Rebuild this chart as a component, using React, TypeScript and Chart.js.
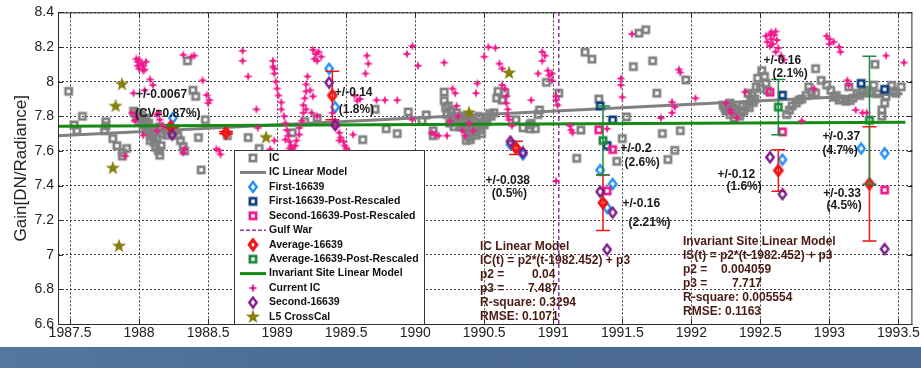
import React, { useEffect, useRef } from 'react';
import { Chart, registerables } from 'chart.js';

Chart.register(...registerables);

// ---------------- data ----------------
const xTickValues = [1987.5, 1988, 1988.5, 1989, 1989.5, 1990, 1990.5, 1991, 1991.5, 1992, 1992.5, 1993, 1993.5];
const yTickValues = [6.6, 6.8, 7, 7.2, 7.4, 7.6, 7.8, 8, 8.2, 8.4];

const icPoints: [number, number][] = [
  [1987.49, 7.944], [1987.59, 7.80], [1987.53, 7.75], [1987.55, 7.717], [1987.76, 7.768], [1987.76, 7.745],
  [1987.75, 7.717], [1987.81, 7.671], [1987.84, 7.63], [1987.88, 7.59], [1987.88, 7.57], [1987.91, 7.614],
  [1987.96, 7.83], [1987.99, 7.82], [1988.02, 7.81], [1987.98, 7.79], [1988.01, 7.77], [1988.04, 7.77],
  [1988.03, 7.75], [1988.06, 7.74], [1988.05, 7.717], [1988.08, 7.705], [1988.09, 7.69], [1988.08, 7.66],
  [1988.11, 7.65], [1988.12, 7.62], [1988.14, 7.60], [1988.15, 7.575], [1988.13, 7.67], [1988.12, 7.717],
  [1988.15, 7.74], [1988.19, 7.72], [1988.22, 7.728], [1988.26, 7.717], [1988.28, 7.69], [1988.30, 7.66],
  [1988.32, 7.625], [1988.33, 7.60], [1988.00, 7.80], [1988.05, 7.79], [1988.07, 7.76], [1988.10, 7.73],
  [1988.17, 7.70], [1988.20, 7.69], [1988.24, 7.70], [1988.10, 7.68], [1988.16, 7.63],
  [1988.35, 8.12], [1988.39, 7.95], [1988.41, 7.915], [1988.48, 7.78],
  [1988.43, 7.677], [1988.45, 7.49], [1988.64, 7.688], [1988.79, 7.677], [1988.87, 7.614], [1989.11, 7.705],
  [1989.20, 7.77], [1989.29, 7.79], [1989.62, 7.665], [1989.71, 7.84], [1989.79, 7.728], [1989.87, 7.70],
  [1989.95, 7.825], [1990.05, 7.774], [1990.08, 7.808], [1990.13, 7.717], [1990.13, 7.688], [1990.21, 7.94],
  [1990.21, 7.89], [1990.24, 7.86], [1990.26, 7.83], [1990.23, 7.81], [1990.29, 7.795], [1990.31, 7.77],
  [1990.25, 7.76], [1990.34, 7.75], [1990.36, 7.73], [1990.38, 7.705], [1990.39, 7.68], [1990.42, 7.705],
  [1990.45, 7.735], [1990.48, 7.76], [1990.51, 7.79], [1990.54, 7.815], [1990.57, 7.82], [1990.34, 7.80],
  [1990.43, 7.77], [1990.40, 7.74], [1990.44, 7.75], [1990.47, 7.72], [1990.50, 7.75], [1990.46, 7.80],
  [1990.37, 7.78], [1990.32, 7.74], [1990.22, 7.85], [1990.27, 7.80], [1990.30, 7.82], [1990.33, 7.78],
  [1990.28, 7.74], [1990.35, 7.76], [1990.41, 7.72], [1990.44, 7.69], [1990.48, 7.70], [1990.52, 7.77],
  [1990.55, 7.80], [1990.38, 7.80], [1990.40, 7.79], [1990.40, 7.665], [1990.37, 7.66],
  [1990.60, 7.944], [1990.65, 7.933], [1990.63, 7.893], [1990.59, 7.905],
  [1990.73, 7.78], [1990.78, 7.733], [1990.83, 7.728], [1990.87, 7.728], [1990.83, 7.75], [1990.90, 7.836],
  [1990.89, 7.81], [1990.84, 7.76], [1990.95, 7.996], [1991.04, 7.933], [1991.23, 8.17], [1991.28, 8.13],
  [1991.20, 7.72], [1991.17, 7.557], [1991.33, 7.90], [1991.46, 7.54], [1991.50, 7.671], [1991.53, 7.796],
  [1991.62, 8.28], [1991.67, 8.30], [1991.58, 8.087], [1991.72, 8.12], [1991.96, 8.01], [1991.75, 7.933],
  [1991.79, 7.70], [1991.92, 7.717], [1991.88, 7.603], [1991.83, 7.55], [1992.23, 7.865], [1992.25, 7.83],
  [1992.28, 7.81], [1992.30, 7.85], [1992.33, 7.825], [1992.35, 7.80], [1992.38, 7.83], [1992.40, 7.865],
  [1992.43, 7.89], [1992.44, 7.92], [1992.41, 7.933], [1992.47, 7.97], [1992.48, 8.02], [1992.51, 8.064],
  [1992.54, 7.99], [1992.55, 7.95], [1992.46, 7.90], [1992.28, 7.876], [1992.24, 7.85], [1992.36, 7.82],
  [1992.31, 7.79], [1992.42, 7.85], [1992.27, 7.86], [1992.26, 7.84], [1992.33, 7.84], [1992.37, 7.86],
  [1992.45, 7.88], [1992.50, 7.96], [1992.53, 8.03],
  [1992.69, 7.81], [1992.71, 7.836], [1992.73, 7.86],
  [1992.76, 7.876], [1992.78, 7.893], [1992.83, 7.92], [1992.90, 7.933], [1992.85, 7.97], [1992.90, 8.075],
  [1992.94, 8.007], [1992.98, 7.98], [1993.01, 7.95], [1993.07, 7.893], [1993.12, 7.887], [1993.17, 7.905],
  [1993.20, 7.933], [1993.24, 7.944], [1993.14, 7.97], [1993.03, 7.91], [1993.09, 7.90], [1993.15, 7.89],
  [1993.22, 7.92], [1993.27, 7.95], [1993.35, 7.93], [1993.33, 8.10], [1993.32, 7.98], [1993.45, 7.978],
  [1993.52, 7.97], [1993.48, 7.933], [1993.40, 7.876], [1993.41, 7.916], [1993.38, 7.836], [1993.38, 7.80],
  [1993.29, 7.933], [1993.46, 7.944], [1992.80, 7.90], [1992.87, 7.94], [1993.05, 7.92],
];

const icLinearModel: [number, number][] = [[1987.41, 7.688], [1993.53, 7.93]];

const first16639: [number, number][] = [
  [1988.245, 7.791], [1989.377, 8.075], [1989.42, 7.853], [1990.69, 7.637], [1990.78, 7.58],
  [1991.34, 7.489], [1991.43, 7.409], [1991.39, 7.272], [1992.66, 7.55], [1993.23, 7.614], [1993.40, 7.586],
];

const firstPostRescaled: [number, number][] = [
  [1991.34, 7.859], [1991.43, 7.779], [1991.39, 7.631], [1992.66, 7.922], [1993.23, 7.99], [1993.40, 7.956],
];

const secondPostRescaled: [number, number][] = [
  [1991.33, 7.722], [1991.43, 7.608], [1991.39, 7.369], [1992.57, 7.939], [1992.66, 7.71], [1993.40, 7.374],
];

const gulfWar: [number, number][] = [[1991.04, 6.6], [1991.04, 8.4]];

const average16639: [number, number][] = [
  [1988.23, 7.74], [1988.63, 7.705], [1989.40, 7.92], [1990.73, 7.617], [1991.36, 7.30], [1992.63, 7.487], [1993.29, 7.41],
];
const average16639Err = [0.0067, 0.0067, 0.14, 0.038, 0.16, 0.12, 0.33];

const averagePostRescaled: [number, number][] = [[1991.36, 7.66], [1992.63, 7.853], [1993.29, 7.777]];
const averagePostRescaledErr = [0.2, 0.16, 0.37];

const invariantSiteModel: [number, number][] = [[1987.41, 7.742], [1993.55, 7.765]];

const currentIC: [number, number][] = [
  [1987.98, 8.132], [1987.99, 8.115], [1988.00, 8.127], [1988.02, 8.104], [1988.03, 8.092], [1988.05, 8.115],
  [1988.00, 8.075], [1988.03, 8.064], [1987.99, 8.092], [1988.04, 8.07], [1988.08, 8.013], [1988.10, 7.98],
  [1988.04, 7.95], [1987.96, 7.933], [1987.95, 7.82], [1987.97, 7.774], [1987.98, 7.80], [1988.13, 7.81],
  [1988.03, 7.69], [1987.90, 7.57], [1988.14, 7.82], [1988.15, 7.78], [1988.17, 7.745], [1988.13, 7.717],
  [1988.32, 8.155], [1988.40, 8.15], [1988.38, 8.144], [1988.46, 8.007], [1988.49, 7.922], [1988.50, 7.876],
  [1988.51, 7.893], [1988.33, 7.61], [1988.32, 7.59], [1988.56, 7.61], [1988.59, 7.58], [1988.58, 7.603],
  [1988.75, 8.178], [1988.75, 8.12], [1988.79, 8.03], [1988.85, 7.84], [1988.86, 7.733], [1988.95, 7.61],
  [1988.98, 7.66], [1988.97, 8.12], [1988.98, 8.075], [1988.97, 8.087], [1988.98, 8.047], [1988.99, 8.0],
  [1989.0, 7.96], [1989.01, 7.92], [1989.03, 7.88], [1989.03, 7.84], [1989.05, 7.80], [1989.06, 7.76],
  [1989.07, 7.72], [1989.08, 7.688], [1989.09, 7.654], [1989.10, 7.63], [1989.11, 7.614], [1989.13, 7.63],
  [1989.14, 7.66], [1989.16, 7.694], [1989.16, 7.733], [1989.18, 7.774], [1989.19, 7.82], [1989.19, 7.864],
  [1989.20, 7.904], [1989.21, 7.944], [1989.21, 7.984], [1989.22, 8.03], [1989.09, 7.614], [1989.10, 7.597],
  [1989.12, 7.59], [1989.06, 7.665], [1989.26, 8.184], [1989.28, 8.16], [1989.30, 8.172], [1989.27, 8.132],
  [1989.29, 8.12], [1989.32, 8.144], [1989.24, 7.95], [1989.26, 7.915], [1989.21, 7.84], [1989.25, 7.82],
  [1989.29, 7.80], [1989.40, 7.82], [1989.42, 7.774], [1989.43, 7.74], [1989.45, 7.705], [1989.46, 7.677],
  [1989.48, 7.654], [1989.49, 7.63], [1989.50, 7.614], [1989.52, 7.60], [1989.45, 7.66], [1989.55, 7.694],
  [1989.56, 7.92], [1989.58, 7.89], [1989.65, 8.15], [1989.66, 8.104], [1989.64, 8.047], [1989.94, 8.16],
  [1989.98, 8.206], [1990.02, 8.092], [1989.78, 7.893], [1989.87, 7.893], [1989.72, 7.893], [1989.60, 7.90],
  [1989.98, 7.78], [1990.21, 8.11], [1990.27, 7.96], [1990.29, 7.933], [1990.12, 7.705], [1990.17, 7.688],
  [1990.14, 7.694], [1990.25, 7.77], [1990.23, 7.688], [1990.30, 7.86], [1990.31, 7.80], [1990.34, 7.717],
  [1990.36, 7.688], [1990.39, 7.76], [1990.42, 7.717], [1990.45, 7.99], [1990.44, 7.933], [1990.50, 8.144],
  [1990.53, 8.20], [1990.58, 8.195], [1990.61, 8.104], [1990.63, 8.075], [1990.63, 7.98], [1990.66, 7.916],
  [1990.66, 7.876], [1990.67, 7.84], [1990.67, 7.80], [1990.68, 7.78], [1990.70, 7.745], [1990.65, 7.96],
  [1990.84, 7.893], [1990.89, 8.047], [1990.92, 8.172], [1990.94, 8.15], [1990.92, 8.12], [1990.96, 8.064],
  [1990.97, 8.036], [1990.99, 8.007], [1990.99, 8.047], [1991.02, 7.893], [1991.03, 7.864], [1991.02, 7.916],
  [1991.12, 7.745], [1991.13, 7.72], [1991.14, 7.705], [1991.02, 7.426], [1991.39, 7.728], [1991.49, 8.018],
  [1991.49, 7.98], [1991.50, 7.91], [1991.57, 8.275], [1991.78, 7.79], [1991.91, 8.07], [1991.92, 8.053],
  [1991.86, 7.882], [1991.88, 7.853], [1991.86, 7.82], [1992.03, 7.904], [1992.25, 7.876], [1992.28, 7.836],
  [1992.29, 7.82], [1992.33, 7.79], [1992.39, 7.94], [1992.54, 8.263], [1992.57, 8.275], [1992.58, 8.246],
  [1992.60, 8.27], [1992.62, 8.24], [1992.59, 8.218], [1992.57, 8.206], [1992.63, 8.195], [1992.61, 8.172],
  [1992.65, 8.15], [1992.67, 8.127], [1992.58, 8.286], [1992.55, 8.23], [1992.61, 8.29], [1992.89, 7.96],
  [1992.80, 7.774], [1992.98, 8.263], [1993.0, 8.246], [1993.03, 8.23], [1993.0, 8.218], [1993.07, 8.2],
  [1993.08, 8.172], [1993.13, 8.007], [1993.14, 7.98], [1993.19, 7.836], [1993.24, 7.82], [1993.27, 7.82],
  [1993.41, 8.15], [1993.54, 8.11],
];

const second16639: [number, number][] = [
  [1988.24, 7.694], [1989.377, 7.995], [1989.42, 7.75], [1990.69, 7.654], [1990.78, 7.591], [1991.34, 7.364],
  [1991.43, 7.244], [1991.39, 7.03], [1992.57, 7.563], [1992.66, 7.35], [1993.40, 7.033],
];

const l5CrossCal: [number, number][] = [
  [1987.876, 7.984], [1987.83, 7.858], [1987.81, 7.50], [1987.855, 7.05], [1988.92, 7.677], [1990.68, 8.05], [1990.39, 7.82],
];

const annotations = [
  { text: '+/-0.0067', x: 1987.978, y: 7.922 },
  { text: '(CV=0.87%)', x: 1987.97, y: 7.813 },
  { text: '+/-0.14', x: 1989.418, y: 7.939 },
  { text: '(1.8%)', x: 1989.446, y: 7.836 },
  { text: '+/-0.038', x: 1990.51, y: 7.426 },
  { text: '(0.5%)', x: 1990.554, y: 7.352 },
  { text: '+/-0.2', x: 1991.487, y: 7.614 },
  { text: '(2.6%)', x: 1991.516, y: 7.534 },
  { text: '+/-0.16', x: 1991.501, y: 7.295 },
  { text: '(2.21%)', x: 1991.545, y: 7.187 },
  { text: '+/-0.16', x: 1992.522, y: 8.121 },
  { text: '(2.1%)', x: 1992.587, y: 8.047 },
  { text: '+/-0.12', x: 1992.189, y: 7.46 },
  { text: '(1.6%)', x: 1992.254, y: 7.392 },
  { text: '+/-0.37', x: 1992.949, y: 7.682 },
  { text: '(4.7%)', x: 1992.949, y: 7.603 },
  { text: '+/-0.33', x: 1992.956, y: 7.352 },
  { text: '(4.5%)', x: 1992.978, y: 7.284 },
];

const icModelText: [string, string?][] = [
  ['IC Linear Model'],
  ['IC(t) = p2*(t-1982.452) + p3'],
  ['p2 =', '0.04'],
  ['p3 =', '7.487'],
  ['R-square: 0.3294'],
  ['RMSE: 0.1071'],
];
const invModelText: [string, string?][] = [
  ['Invariant Site Linear Model'],
  ['IS(t) = p2*(t-1982.452) + p3'],
  ['p2 =', '0.004059'],
  ['p3 =', '7.717'],
  ['R-square: 0.005554'],
  ['RMSE: 0.1163'],
];

// ---------------- styling ----------------
const FONT = 'Arial, "Liberation Sans", sans-serif';
const C_GRAY = '#808080';
const C_BLUE = '#1f8ef5';
const C_NAVY = '#0d3f80';
const C_PINK = '#f0198c';
const C_PURPLE_LINE = '#8e3c9c';
const C_RED = '#f01414';
const C_GREEN_SQ = '#1b8a3c';
const C_GREEN_LINE = '#158a15';
const C_PURPLE = '#7d1a8c';
const C_OLIVE = '#868010';

function makeMarker(kind: string, color: string): HTMLCanvasElement {
  const size = kind === 'star5' ? 18 : 14;
  const c = document.createElement('canvas');
  c.width = size;
  c.height = size;
  const g = c.getContext('2d') as CanvasRenderingContext2D;
  const m = size / 2;
  g.strokeStyle = color;
  g.fillStyle = color;
  if (kind === 'square') {
    g.lineWidth = 2.7;
    g.strokeRect(m - 3.1, m - 3.1, 6.2, 6.2);
  } else if (kind === 'diamond' || kind === 'diamondBold') {
    g.lineWidth = kind === 'diamondBold' ? 3.2 : 2.4;
    g.beginPath();
    g.moveTo(m, m - 4.9);
    g.lineTo(m + 3.7, m);
    g.lineTo(m, m + 4.9);
    g.lineTo(m - 3.7, m);
    g.closePath();
    g.stroke();
  } else if (kind === 'star4') {
    const R = 4.8, r = 1.7;
    g.beginPath();
    for (let i = 0; i < 8; i++) {
      const a = (i * Math.PI) / 4 - Math.PI / 2;
      const rad = i % 2 === 0 ? R : r;
      g.lineTo(m + rad * Math.cos(a), m + rad * Math.sin(a));
    }
    g.closePath();
    g.fill();
  } else if (kind === 'star5') {
    const R = 7.4, r = 3.0;
    g.beginPath();
    for (let i = 0; i < 10; i++) {
      const a = (i * Math.PI) / 5 - Math.PI / 2;
      const rad = i % 2 === 0 ? R : r;
      g.lineTo(m + rad * Math.cos(a), m + rad * Math.sin(a));
    }
    g.closePath();
    g.fill();
  }
  return c;
}

const fmt = (v: any) => String(Number(Number(v).toFixed(2)));

export default function App() {
  const ref = useRef<HTMLCanvasElement>(null);

  useEffect(() => {
    const canvas = ref.current;
    if (!canvas) return;

    const mk = {
      ic: makeMarker('square', C_GRAY),
      first: makeMarker('diamond', C_BLUE),
      firstPR: makeMarker('square', C_NAVY),
      secondPR: makeMarker('square', C_PINK),
      avg: makeMarker('diamondBold', C_RED),
      avgPR: makeMarker('square', C_GREEN_SQ),
      cur: makeMarker('star4', C_PINK),
      second: makeMarker('diamond', C_PURPLE),
      l5: makeMarker('star5', C_OLIVE),
    };

    const toXY = (arr: [number, number][]) => arr.map(([x, y]) => ({ x, y }));
    const pts = (label: string, arr: [number, number][], marker: HTMLCanvasElement, order: number, extra: any = {}) => ({
      label, data: toXY(arr), pointStyle: marker, pointRadius: 4, showLine: false, order, ...extra,
    });
    const line = (label: string, arr: [number, number][], color: string, width: number, order: number, dash: number[] = []) => ({
      label, data: toXY(arr), showLine: true, pointRadius: 0, borderColor: color, borderWidth: width, borderDash: dash, order,
    });

    const datasets: any[] = [
      pts('IC', icPoints, mk.ic, 12),
      line('IC Linear Model', icLinearModel, C_GRAY, 3, 11),
      pts('First-16639', first16639, mk.first, 10),
      pts('First-16639-Post-Rescaled', firstPostRescaled, mk.firstPR, 9),
      pts('Second-16639-Post-Rescaled', secondPostRescaled, mk.secondPR, 8),
      line('Gulf War', gulfWar, C_PURPLE_LINE, 1.5, 7, [4, 3]),
      pts('Average-16639', average16639, mk.avg, 6, { errors: average16639Err, errColor: C_RED }),
      pts('Average-16639-Post-Rescaled', averagePostRescaled, mk.avgPR, 5, { errors: averagePostRescaledErr, errColor: C_GREEN_SQ }),
      line('Invariant Site Linear Model', invariantSiteModel, C_GREEN_LINE, 3, 4),
      pts('Current IC', currentIC, mk.cur, 3),
      pts('Second-16639', second16639, mk.second, 2),
      pts('L5 CrossCal', l5CrossCal, mk.l5, 1),
    ];

    const legendItems: { label: string; kind: 'marker' | 'line'; marker?: HTMLCanvasElement; color?: string; width?: number; dash?: number[] }[] = [
      { label: 'IC', kind: 'marker', marker: mk.ic },
      { label: 'IC Linear Model', kind: 'line', color: C_GRAY, width: 3 },
      { label: 'First-16639', kind: 'marker', marker: mk.first },
      { label: 'First-16639-Post-Rescaled', kind: 'marker', marker: mk.firstPR },
      { label: 'Second-16639-Post-Rescaled', kind: 'marker', marker: mk.secondPR },
      { label: 'Gulf War', kind: 'line', color: C_PURPLE_LINE, width: 1.5, dash: [4, 2] },
      { label: 'Average-16639', kind: 'marker', marker: mk.avg },
      { label: 'Average-16639-Post-Rescaled', kind: 'marker', marker: mk.avgPR },
      { label: 'Invariant Site Linear Model', kind: 'line', color: C_GREEN_LINE, width: 3 },
      { label: 'Current IC', kind: 'marker', marker: mk.cur },
      { label: 'Second-16639', kind: 'marker', marker: mk.second },
      { label: 'L5 CrossCal', kind: 'marker', marker: mk.l5 },
    ];

    const errorBarPlugin = {
      id: 'errorBars',
      beforeDatasetDraw(chart: any, args: any) {
        const ds = chart.data.datasets[args.index];
        if (!ds || !ds.errors) return;
        const ctx = chart.ctx;
        const xs = chart.scales.x, ys = chart.scales.y;
        ctx.save();
        ctx.beginPath();
        ctx.rect(chart.chartArea.left, chart.chartArea.top, chart.chartArea.right - chart.chartArea.left, chart.chartArea.bottom - chart.chartArea.top);
        ctx.clip();
        ctx.strokeStyle = ds.errColor;
        ctx.lineWidth = 1.5;
        ds.data.forEach((p: any, i: number) => {
          const e = ds.errors[i];
          const px = xs.getPixelForValue(p.x);
          const t = ys.getPixelForValue(p.y + e);
          const b = ys.getPixelForValue(p.y - e);
          ctx.beginPath();
          ctx.moveTo(px, t); ctx.lineTo(px, b);
          ctx.moveTo(px - 7, t); ctx.lineTo(px + 7, t);
          ctx.moveTo(px - 7, b); ctx.lineTo(px + 7, b);
          ctx.stroke();
        });
        ctx.restore();
      },
    };

    const drawBlock = (ctx: CanvasRenderingContext2D, lines: [string, string?][], x0: number, y0: number, step: number, valOffsets: number[]) => {
      let vi = 0;
      lines.forEach((ln, i) => {
        const y = y0 + i * step;
        ctx.fillText(ln[0], x0, y);
        if (ln[1] !== undefined) {
          ctx.fillText(ln[1] as string, x0 + valOffsets[vi], y);
          vi++;
        }
      });
    };

    const overlayPlugin = {
      id: 'overlay',
      beforeDatasetsDraw(chart: any) {
        const ctx = chart.ctx as CanvasRenderingContext2D;
        ctx.save();
        ctx.font = `bold 12px ${FONT}`;
        ctx.fillStyle = '#4a1a12';
        ctx.textAlign = 'left';
        ctx.textBaseline = 'middle';
        drawBlock(ctx, icModelText, 480, 247, 14, [52, 48]);
        drawBlock(ctx, invModelText, 683, 242, 14, [38, 49]);
        ctx.restore();
      },
      afterDatasetsDraw(chart: any) {
        const ctx = chart.ctx as CanvasRenderingContext2D;
        const xs = chart.scales.x, ys = chart.scales.y;
        const { left, right, top, bottom } = chart.chartArea;
        ctx.save();
        // annotations
        ctx.font = `bold 12px ${FONT}`;
        ctx.fillStyle = '#1a1a1a';
        ctx.textAlign = 'left';
        ctx.textBaseline = 'middle';
        annotations.forEach((a) => {
          ctx.fillText(a.text, xs.getPixelForValue(a.x), ys.getPixelForValue(a.y));
        });
        // frame
        ctx.strokeStyle = '#2b2b2b';
        ctx.lineWidth = 1;
        ctx.strokeRect(left + 0.5, top + 0.5, right - left - 1, bottom - top);
        ctx.beginPath();
        xTickValues.forEach((v) => {
          const px = Math.round(xs.getPixelForValue(v)) + 0.5;
          ctx.moveTo(px, bottom); ctx.lineTo(px, bottom - 5);
          ctx.moveTo(px, top); ctx.lineTo(px, top + 5);
        });
        yTickValues.forEach((v) => {
          const py = Math.round(ys.getPixelForValue(v)) + 0.5;
          ctx.moveTo(left, py); ctx.lineTo(left + 5, py);
          ctx.moveTo(right, py); ctx.lineTo(right - 5, py);
        });
        ctx.stroke();
        // legend
        const lx = 234.5, ly = 150.5, lw = 190, lh = bottom - 150;
        ctx.fillStyle = '#ffffff';
        ctx.fillRect(lx, ly, lw, lh);
        ctx.strokeStyle = '#333';
        ctx.strokeRect(lx, ly, lw, lh);
        ctx.font = `bold 10.5px ${FONT}`;
        ctx.textBaseline = 'middle';
        legendItems.forEach((it, i) => {
          const y = 158 + i * 14.45;
          if (it.kind === 'marker' && it.marker) {
            const m = it.marker;
            ctx.drawImage(m, 253 - m.width / 2, y - m.height / 2);
          } else {
            ctx.save();
            ctx.strokeStyle = it.color as string;
            ctx.lineWidth = it.width as number;
            ctx.setLineDash(it.dash || []);
            ctx.beginPath();
            ctx.moveTo(240, y); ctx.lineTo(266, y);
            ctx.stroke();
            ctx.restore();
          }
          ctx.fillStyle = '#111';
          ctx.fillText(it.label, 269, y);
        });
        ctx.restore();
      },
    };

    const chart = new Chart(canvas, {
      type: 'scatter',
      data: { datasets },
      options: {
        animation: false,
        responsive: false,
        maintainAspectRatio: false,
        devicePixelRatio: 1,
        events: [],
        layout: { padding: { top: 8, right: 8, left: 0, bottom: 0 }, autoPadding: false },
        plugins: { legend: { display: false }, tooltip: { enabled: false } },
        scales: {
          x: {
            type: 'linear',
            min: 1987.413,
            max: 1993.601,
            afterFit: (s: any) => { s.height = 23; },
            afterBuildTicks: (s: any) => { s.ticks = xTickValues.map((v) => ({ value: v })); },
            ticks: { callback: fmt, font: { family: FONT, size: 14 }, color: '#222', padding: 1, maxRotation: 0, minRotation: 0, autoSkip: false },
            grid: { color: '#3c3c3c', lineWidth: 1, drawTicks: false },
            border: { display: false, dash: [2, 2] },
          },
          y: {
            type: 'linear',
            min: 6.6,
            max: 8.4,
            afterFit: (s: any) => { s.width = 58; },
            afterBuildTicks: (s: any) => { s.ticks = yTickValues.map((v) => ({ value: v })); },
            ticks: { callback: fmt, font: { family: FONT, size: 14 }, color: '#222', padding: 4, autoSkip: false },
            grid: { color: '#3c3c3c', lineWidth: 1, drawTicks: false },
            border: { display: false, dash: [2, 2] },
            title: { display: true, text: 'Gain[DN/Radiance]', font: { family: FONT, size: 17 }, color: '#222', padding: { top: 11, bottom: 0 } },
          },
        },
      } as any,
      plugins: [errorBarPlugin, overlayPlugin] as any,
    });

    return () => chart.destroy();
  }, []);

  return (
    <div style={{ position: 'fixed', left: 0, top: 0, width: 921, height: 368, background: '#fff', overflow: 'hidden' }}>
      <canvas ref={ref} width={921} height={347} style={{ display: 'block', width: 921, height: 347 }} />
      <div
        style={{
          position: 'absolute', left: 0, top: 347, width: 921, height: 21,
          background: 'linear-gradient(90deg, #56779d 0%, #4b6c94 35%, #4a6a92 100%)',
        }}
      />
    </div>
  );
}
